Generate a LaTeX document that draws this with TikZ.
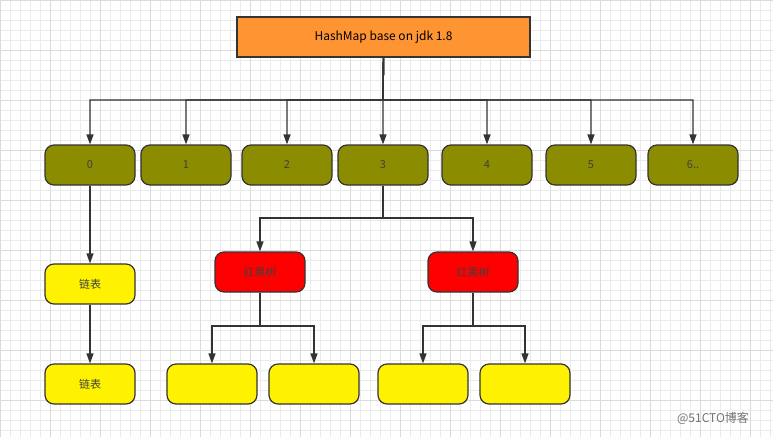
\documentclass[tikz,border=0pt]{standalone}
\usepackage{fontspec}
\setmainfont{Noto Sans CJK SC}
\usetikzlibrary{arrows.meta}
\definecolor{bucketolive}{HTML}{8C8C00}
\definecolor{headorange}{HTML}{FF9433}
\tikzset{
    box/.style={draw=black!80,line width=1.2pt,rounded corners=9pt,minimum width=90pt,minimum height=40pt,inner sep=0pt,font=\fontsize{11}{13}\selectfont,text=black!75},
    bucket/.style={box,fill=bucketolive},
    tree/.style={box,fill=red},
    list/.style={box,fill=yellow},
    link/.style={-{Triangle[length=10pt,width=7pt]},line width=1.4pt,draw=black!80}
}
\begin{document}
\begin{tikzpicture}[x=1pt,y=-1pt]
    \fill[white] (0,0) rectangle (773,437);
    \useasboundingbox (0,0) rectangle (773,437);
    \draw[black!8,step=10pt] (0,0) grid (773,437); % grid
    \draw[black!14,step=50pt] (0,0) grid (773,437);

    \node[draw=black!80,line width=1.2pt,fill=headorange,minimum width=293pt,minimum height=40pt,font=\fontsize{12}{14}\selectfont] (head) at (383.5,37) {HashMap base on jdk 1.8};

    % buckets
    \foreach \i/\x/\t in {0/90/0,1/186/1,2/287/2,3/383/3,4/487/4,5/591/5,6/693/6..}
        {
        \node[bucket] (b\i) at (\x,165) {\t};
        \draw[link] (head.south) -- (383,100) -| (b\i.north);
        }

    % linked list
    \node[list] (l1) at (90,284) {链表};
    \node[list] (l2) at (90,384) {链表};
    \draw[link] (b0) -- (l1);
    \draw[link] (l1) -- (l2);

    % red-black trees
    \node[tree] (t1) at (260,272) {红黑树};
    \node[tree] (t2) at (473,272) {红黑树};
    \foreach \t in {t1,t2}
        \draw[link] (b3.south) -- (383,218) -| (\t.north);

    \node[list] (c1) at (212,384) {};
    \node[list] (c2) at (314,384) {};
    \node[list] (c3) at (423,384) {};
    \node[list] (c4) at (525,384) {};
    \foreach \c in {c1,c2}
        \draw[link] (t1.south) -- (260,326) -| (\c.north);
    \foreach \c in {c3,c4}
        \draw[link] (t2.south) -- (473,326) -| (\c.north);

    \node[text=black!55,font=\fontsize{12}{14}\selectfont] (mark) at (713,418) {@51CTO博客};
\end{tikzpicture}
\end{document}
